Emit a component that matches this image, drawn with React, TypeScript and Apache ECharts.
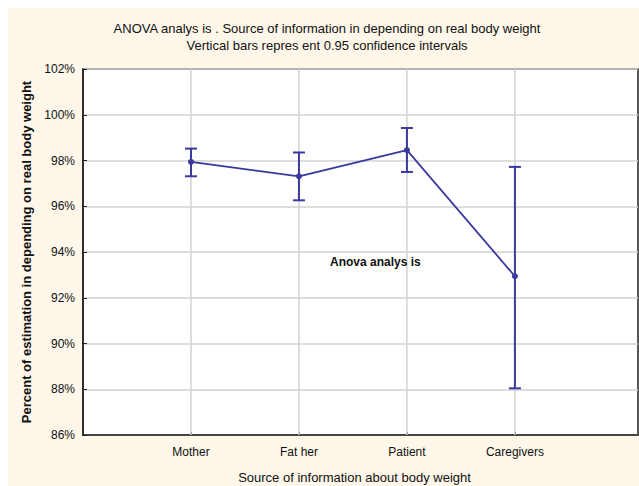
import React, { useEffect, useRef } from "react";
import * as echarts from "echarts";

const categories = ["Mother", "Fat her", "Patient", "Caregivers"];
const positions = [1, 2, 3, 4];
const means = [97.94, 97.31, 98.45, 92.94];
const lower = [97.31, 96.26, 97.5, 88.04];
const upper = [98.52, 98.35, 99.42, 97.72];
const yTicks = [86, 88, 90, 92, 94, 96, 98, 100, 102];

const titleLine1 = "ANOVA analys is . Source of information in depending on real body weight";
const titleLine2 = "Vertical bars repres ent 0.95 confidence intervals";
const annotation = "Anova analys is";
const xName = "Source of information about body weight";
const yName = "Percent of estimation in depending on real body weight";

const BLUE = "#3a3a9c";
const FONT = "Liberation Sans, Arial, sans-serif";

export default function App() {
  const ref = useRef<HTMLDivElement>(null);
  useEffect(() => {
    if (!ref.current) return;
    const chart = echarts.init(ref.current, undefined, { renderer: "svg" });
    const yMin = yTicks[0];
    const yMax = yTicks[yTicks.length - 1];
    chart.setOption({
      animation: false,
      backgroundColor: "#fef7ea",
      textStyle: { fontFamily: FONT },
      graphic: [
        {
          type: "text",
          x: 319,
          y: 20,
          style: {
            text: titleLine1,
            fontSize: 13,
            fontFamily: FONT,
            fill: "#111",
            align: "center",
            verticalAlign: "middle",
          },
        },
        {
          type: "text",
          x: 319,
          y: 37,
          style: {
            text: titleLine2,
            fontSize: 13,
            fontFamily: FONT,
            fill: "#111",
            align: "center",
            verticalAlign: "middle",
          },
        },
        {
          type: "text",
          x: 322,
          y: 254,
          z: 100,
          style: {
            text: annotation,
            fontSize: 12,
            fontWeight: "bold",
            fontFamily: FONT,
            fill: "#111",
            align: "left",
            verticalAlign: "middle",
          },
        },
      ],
      grid: {
        left: 75,
        top: 61,
        right: 1,
        bottom: 51,
        outerBoundsMode: "none",
        containLabel: false,
        show: true,
        backgroundColor: "#ffffff",
        borderColor: "#222",
        borderWidth: 1.5,
      },
      xAxis: {
        type: "value",
        min: 0,
        max: 5.14,
        interval: 1,
        name: xName,
        nameLocation: "middle",
        nameGap: 36,
        nameTextStyle: { fontSize: 13, color: "#111", fontFamily: FONT, padding: [0, 12, 0, 0] },
        axisLine: { show: true, lineStyle: { color: "#222", width: 1.5 } },
        axisTick: {
          show: true,
          inside: true,
          length: 3,
          customValues: positions,
          lineStyle: { color: "#222" },
        },
        axisLabel: {
          customValues: positions,
          margin: 11,
          fontSize: 12,
          color: "#111",
          fontFamily: FONT,
          formatter: (v: number) => categories[Math.round(v) - 1] ?? "",
        },
        splitLine: { show: false },
      },
      yAxis: {
        type: "value",
        min: yMin,
        max: yMax,
        interval: 2,
        name: yName,
        nameLocation: "middle",
        nameGap: 49,
        nameRotate: 90,
        nameTextStyle: { fontSize: 13, fontWeight: "bold", color: "#111", fontFamily: FONT },
        axisLine: { show: true, lineStyle: { color: "#222", width: 1.5 } },
        axisTick: { show: true, inside: true, length: 4, lineStyle: { color: "#222" } },
        axisLabel: {
          margin: 8,
          fontSize: 12,
          color: "#111",
          fontFamily: FONT,
          formatter: (v: number) => `${v}%`,
        },
        splitLine: { show: true, lineStyle: { color: "#d2d2d2", width: 1.5 } },
      },
      series: [
        {
          type: "custom",
          z: 1,
          silent: true,
          data: positions.map((p) => [p]),
          renderItem: (params: any, api: any) => {
            const x = api.value(0);
            const a = api.coord([x, yMin]);
            const b = api.coord([x, yMax]);
            return {
              type: "line",
              shape: { x1: a[0], y1: a[1], x2: b[0], y2: b[1] },
              style: { stroke: "#d2d2d2", lineWidth: 1.5 },
            };
          },
        },
        {
          type: "line",
          z: 3,
          data: positions.map((p, i) => [p, means[i]]),
          symbol: "circle",
          symbolSize: 6,
          itemStyle: { color: BLUE },
          lineStyle: { color: BLUE, width: 1.8 },
        },
        {
          type: "custom",
          z: 4,
          data: positions.map((p, i) => [p, lower[i], upper[i]]),
          renderItem: (params: any, api: any) => {
            const x = api.value(0);
            const lo = api.coord([x, api.value(1)]);
            const hi = api.coord([x, api.value(2)]);
            const half = 6;
            const style = { stroke: BLUE, lineWidth: 2 };
            return {
              type: "group",
              children: [
                { type: "line", shape: { x1: lo[0], y1: lo[1], x2: hi[0], y2: hi[1] }, style },
                { type: "line", shape: { x1: hi[0] - half, y1: hi[1], x2: hi[0] + half, y2: hi[1] }, style },
                { type: "line", shape: { x1: lo[0] - half, y1: lo[1], x2: lo[0] + half, y2: lo[1] }, style },
              ],
            };
          },
        },
      ],
    });
    return () => chart.dispose();
  }, []);
  return (
    <div
      ref={ref}
      style={{ position: "absolute", left: 8, top: 8, width: 631, height: 478 }}
    />
  );
}
